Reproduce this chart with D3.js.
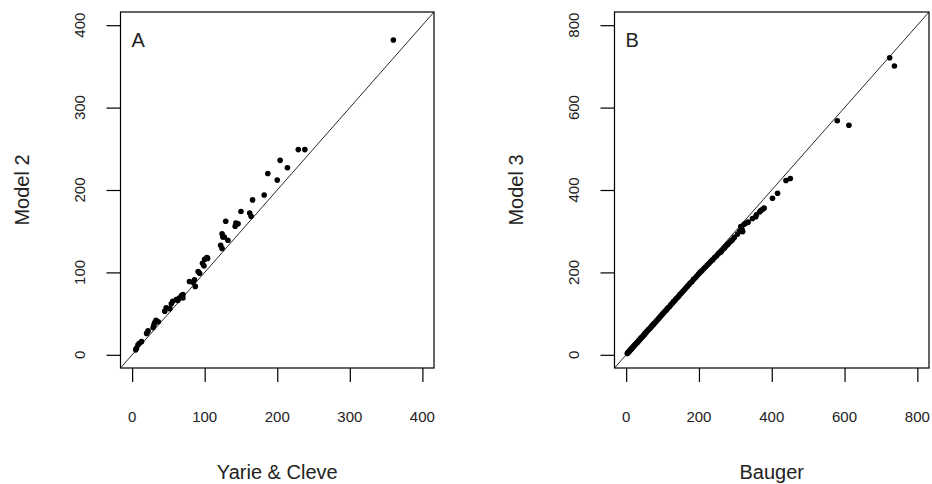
<!DOCTYPE html>
<html>
<head>
<meta charset="utf-8">
<script src="https://cdn.jsdelivr.net/npm/d3@7"></script>
<style>
  body { margin: 0; background: #fff; }
  text { font-family: "Liberation Sans", Arial, sans-serif; fill: #222; }
</style>
</head>
<body>
<svg width="932" height="484"></svg>
<script>
// panel A: Yarie & Cleve vs Model 2
var yarieCleve = [5,6,8,10,13,20,22,29,30,31,33,36,45,47,52,54,56,61,63,65,68,70,70,79,84,86,87,91,93,97,99,100,103,104,
    122,124,124,125,127,129,132,142,143,146,150,162,164,166,182,187,200,204,214,229,238,360];
var model2 = [6,8,12,14,16,26,29,33,36,39,42,40,53,57,56,62,65,67,66,69,72,69,73,89,88,91,83,101,99,111,108,116,118,117,
    133,129,147,143,143,162,139,156,160,159,174,172,168,188,194,220,212,236,227,249,249,382];

// panel B: Bauger vs Model 3
var bauger = [3,5,6,8,9,11,12,14,15,17,19,21,23,25,27,29,31,33,35,38,40,42,45,47,50,52,55,57,60,62,65,68,70,73,76,79,
    82,85,88,91,94,97,100,103,106,110,113,116,120,123,127,130,134,137,141,145,148,152,156,160,164,168,172,176,181,185,
    190,194,199,203,208,213,218,223,228,233,238,243,248,253,258,261,263,268,270,273,278,279,283,288,292,297,306,312,315,
    318,320,324,328,335,347,356,358,367,370,375,379,402,416,439,451,580,612,724,737];
var model3 = [3,5,6,8,9,11,12,14,15,17,19,21,23,25,27,29,30,33,35,37,40,42,44,47,49,52,54,57,59,62,64,67,70,72,75,78,
    81,84,87,90,93,96,99,102,105,108,112,115,118,122,125,129,132,136,139,143,147,150,154,158,162,166,170,174,178,183,
    187,191,196,200,204,209,213,218,222,227,231,236,240,245,249,250,253,258,259,263,267,268,272,276,279,285,293,300,311,
    305,299,317,319,322,331,335,340,347,350,353,356,380,392,423,428,568,557,721,701];

var ticksA = [0, 100, 200, 300, 400];
var ticksB = [0, 200, 400, 600, 800];

var svg = d3.select("svg");
svg.append("rect").attr("width", 932).attr("height", 484).attr("fill", "#fff");

function panel(xs, ys, xDomain, xRange, ticks, letter, xTitle, yTitle, offX) {
  var x = d3.scaleLinear().domain(xDomain).range(xRange);
  var y = d3.scaleLinear().domain(xDomain).range([368, 12]);
  var g = svg.append("g");

  // 1:1 line
  g.append("line")
    .attr("x1", x(xDomain[0])).attr("y1", y(xDomain[0]))
    .attr("x2", x(xDomain[1])).attr("y2", y(xDomain[1]))
    .attr("stroke", "#111").attr("stroke-width", 0.9);

  g.selectAll("circle")
    .data(xs.map(function(d, i) { return [d, ys[i]]; }))
    .enter().append("circle")
    .attr("cx", function(d) { return x(d[0]); })
    .attr("cy", function(d) { return y(d[1]); })
    .attr("r", 2.8)
    .attr("fill", "#000");

  g.append("rect")
    .attr("x", xRange[0]).attr("y", 12)
    .attr("width", xRange[1] - xRange[0]).attr("height", 356)
    .attr("fill", "none").attr("stroke", "#000").attr("stroke-width", 1.2);

  var xa = d3.axisBottom(x).tickValues(ticks).tickSize(14).tickFormat("");
  g.append("g").attr("transform", "translate(0,368)").call(xa)
    .call(function(s) { s.select(".domain").remove(); s.selectAll("line").attr("stroke", "#000").attr("stroke-width", 1.2); });
  var ya = d3.axisLeft(y).tickValues(ticks).tickSize(14).tickFormat("");
  g.append("g").attr("transform", "translate(" + xRange[0] + ",0)").call(ya)
    .call(function(s) { s.select(".domain").remove(); s.selectAll("line").attr("stroke", "#000").attr("stroke-width", 1.2); });

  g.selectAll(".xl").data(ticks).enter().append("text")
    .attr("x", function(d) { return x(d); }).attr("y", 422)
    .attr("text-anchor", "middle").style("font-size", "15px")
    .text(function(d) { return d; });
  g.selectAll(".yl").data(ticks).enter().append("text")
    .attr("transform", function(d) { return "translate(" + (80 + offX) + "," + y(d) + ") rotate(-90)"; })
    .attr("dy", "0.35em")
    .attr("text-anchor", "middle").style("font-size", "15px")
    .text(function(d) { return d; });

  g.append("text").attr("x", (xRange[0] + xRange[1]) / 2).attr("y", 479)
    .attr("text-anchor", "middle").style("font-size", "20px").text(xTitle);
  g.append("text")
    .attr("transform", "translate(" + (21.5 + offX) + ",190) rotate(-90)")
    .attr("dy", "0.35em")
    .attr("text-anchor", "middle").style("font-size", "20px").text(yTitle);
  g.append("text").attr("x", 131.5 + offX).attr("y", 46.5)
    .style("font-size", "20px").text(letter);
}

panel(yarieCleve, model2, [-16, 416], [120.5, 434], ticksA, "A", "Yarie & Cleve", "Model 2", 0);
panel(bauger, model3, [-32, 832], [614.5, 929], ticksB, "B", "Bauger", "Model 3", 494);
</script>
</body>
</html>
